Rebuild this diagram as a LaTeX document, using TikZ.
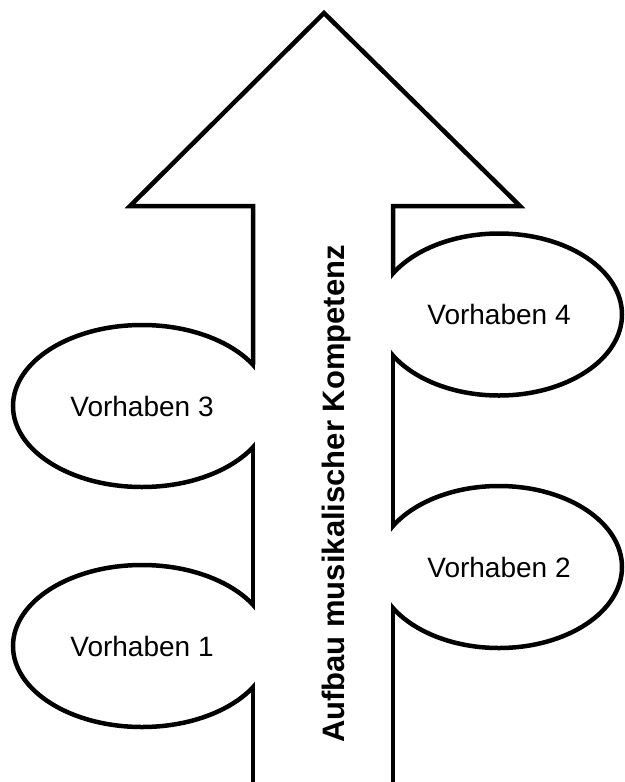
\documentclass[tikz,border=0pt]{standalone}
\usepackage{fontspec}
\setmainfont{Liberation Sans}
\usetikzlibrary{shapes.geometric}
\begin{document}
\begin{tikzpicture}[x=1pt,y=-1pt,
  outline/.style={line width=4.5pt,line join=miter,black},
  bubble/.style={ellipse,draw,line width=4.5pt,fill=white,inner sep=0pt,
    font=\fontsize{28}{34}\selectfont},
  leftbubble/.style={bubble,minimum width=258pt,minimum height=162pt},
  rightbubble/.style={bubble,minimum width=246pt,minimum height=162pt},
  shafttext/.style={rotate=90,font=\bfseries\fontsize{31}{37}\selectfont,inner sep=0pt}]
\useasboundingbox (0,0) rectangle (624,782);
% bubbles
\node[leftbubble]  (v3) at (142,406)   {Vorhaben 3};
\node[leftbubble]  (v1) at (142,646)   {Vorhaben 1};
\node[rightbubble] (v4) at (499,314.5) {Vorhaben 4};
\node[rightbubble] (v2) at (499,567)   {Vorhaben 2};
% shaft interior
\fill[white] (255.25,209) rectangle (390.75,790);
% arrow outline points
\coordinate (tip) at (324,13);
\coordinate (bl) at (130,206);
\coordinate (br) at (520,206);
\coordinate (sl) at (253,206);
\coordinate (sr) at (393,206);
\coordinate (l3a) at (253,364.7);
\coordinate (l3b) at (253,447.3);
\coordinate (l1a) at (253,604.7);
\coordinate (l1b) at (253,687.3);
\coordinate (lend) at (253,782);
\coordinate (r4a) at (393,273.4);
\coordinate (r4b) at (393,355.6);
\coordinate (r2a) at (393,525.9);
\coordinate (r2b) at (393,608.1);
\coordinate (rend) at (393,782);
\draw[outline] (l3a) -- (sl) -- (bl) -- (tip) -- (br) -- (sr) -- (r4a);
\draw[outline] (l3b) -- (l1a);
\draw[outline] (l1b) -- (lend);
\draw[outline] (r4b) -- (r2a);
\draw[outline] (r2b) -- (rend);
% label
\node[shafttext] (title) at (336,494) {Aufbau musikalischer Kompetenz};
\end{tikzpicture}
\end{document}
